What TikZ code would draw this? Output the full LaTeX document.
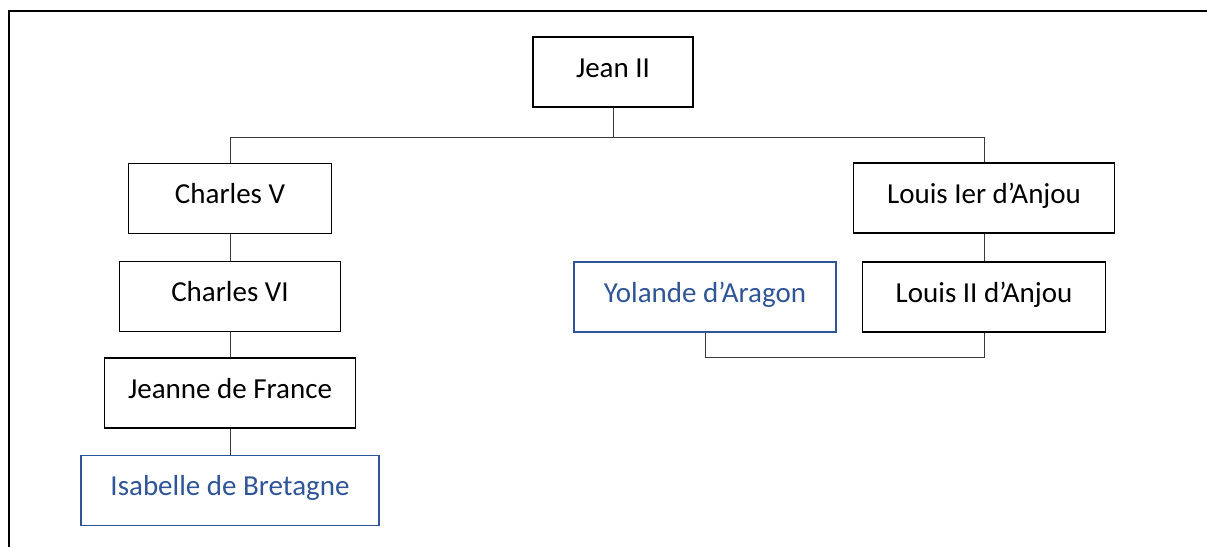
\documentclass[tikz,border=0pt]{standalone}
\usepackage{fontspec}
\setmainfont{Carlito}
\usepackage{xcolor}
\definecolor{ink}{HTML}{000000}
\definecolor{spouse}{HTML}{2F5597}
\definecolor{wire}{HTML}{3A3A3A}
\usepackage{tikz}
\usetikzlibrary{positioning, calc}

\begin{document}
\begin{tikzpicture}[
  box/.style={draw=#1, text=#1, line width=1.1pt, inner sep=0pt,
    minimum height=1.4cm, text height=0.4cm, text depth=0.2cm,
    font=\fontsize{16.5}{20}\selectfont},
  box/.default=ink,
  link/.style={draw=wire, line width=0.55pt}
]
  \useasboundingbox (0,0) rectangle (24.14,-10.94);
  \draw[line width=0.8pt] (0.18,-10.94) |- (24.14,-0.22);

  \node[box, minimum width=3.2cm]  (jean) at (12.26,-1.44) {Jean II};

  % left branch
  \node[box, minimum width=4.06cm] (charles5) at (4.6,-3.97) {Charles V};
  \node[box, minimum width=4.42cm] (charles6) at (4.6,-5.93) {Charles VI};
  \node[box, minimum width=5.02cm] (jeanne)   at (4.6,-7.86) {Jeanne de France};
  \node[box=spouse, line width=0.9pt, minimum width=5.96cm]
    (isabelle) at (4.6,-9.81) {Isabelle de Bretagne};

  % right branch
  \node[box, minimum width=5.22cm] (louis1) at (19.68,-3.96) {Louis Ier d’Anjou};
  \node[box, minimum width=4.86cm] (louis2) at (19.68,-5.94) {Louis II d’Anjou};
  \node[box=spouse, line width=0.9pt, minimum width=5.24cm]
    (yolande) at (14.1,-5.94) {Yolande d’Aragon};

  \coordinate (bar) at ([yshift=-0.6cm]jean.south);
  \coordinate (wed) at ([yshift=-0.5cm]yolande.south);

  \draw[link] (jean.south) -- (bar);
  \draw[link] (charles5.north) |- (bar) -| (louis1.north);
  \draw[link] (charles5) -- (charles6);
  \draw[link] (charles6) -- (jeanne);
  \draw[link] (jeanne) -- (isabelle);
  \draw[link] (louis1) -- (louis2);
  \draw[link] (yolande.south) -- (wed) -| (louis2.south);
\end{tikzpicture}
\end{document}
